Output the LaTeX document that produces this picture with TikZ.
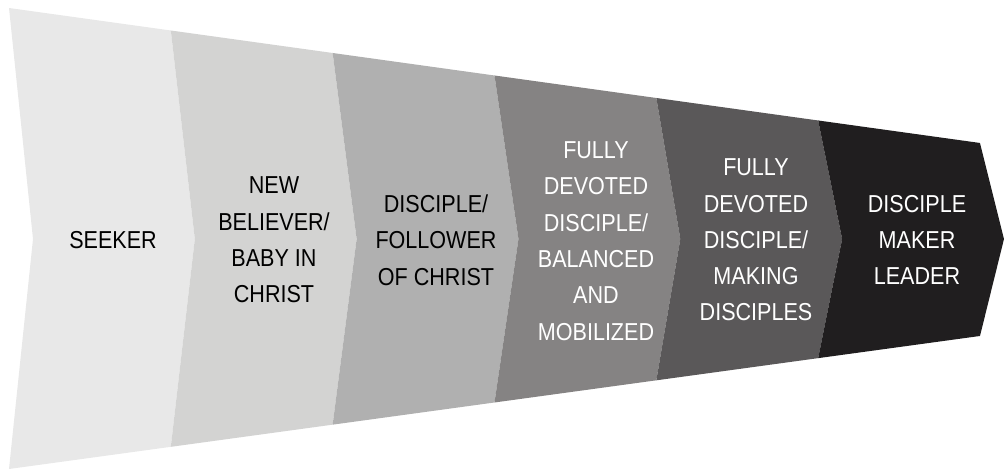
\documentclass[tikz,border=0pt]{standalone}
\usepackage{fontspec}
\newfontfamily\funnelfont[FakeStretch=0.88]{Liberation Sans}
\definecolor{segone}{HTML}{E8E8E8}
\definecolor{segtwo}{HTML}{D3D3D2}
\definecolor{segthree}{HTML}{B0B0B0}
\definecolor{segfour}{HTML}{858383}
\definecolor{segfive}{HTML}{5A5859}
\definecolor{segsix}{HTML}{201E1F}
\tikzset{
	stagetext/.style={align=center, inner sep=0pt, font=\funnelfont\fontsize{24.5}{36.3}\selectfont},
	darkstage/.style={stagetext, text=white}
}

\begin{document}
\begin{tikzpicture}[x=1pt,y=-1pt]
	\useasboundingbox (0,0) rectangle (1004,470);
		%chevrons
			\foreach \i/\col in {0/segone,1/segtwo,2/segthree,3/segfour,4/segfive,5/segsix} {
				\pgfmathsetmacro\xl{9+161.83*\i}
				\pgfmathsetmacro\xr{\xl+161.83}
				\pgfmathsetmacro\tl{8+(\xl-9)*0.139}
				\pgfmathsetmacro\tr{8+(\xr-9)*0.139}
				\pgfmathsetmacro\bl{469-(\xl-9)*0.137}
				\pgfmathsetmacro\br{469-(\xr-9)*0.137}
				\fill[\col] (\xl,\tl) -- (\xr,\tr) -- (\xr+24,239) -- (\xr,\br) -- (\xl,\bl) -- (\xl+24,239) -- cycle;
			}
		%labels
			\node[stagetext] (seeker) at (113,240) {SEEKER};
			\node[stagetext] (believer) at (274,240) {NEW\\BELIEVER/\\BABY IN\\CHRIST};
			\node[stagetext] (follower) at (436,240) {DISCIPLE/\\FOLLOWER\\OF CHRIST};
			\node[darkstage] (balanced) at (596,241) {FULLY\\DEVOTED\\DISCIPLE/\\BALANCED\\AND\\MOBILIZED};
			\node[darkstage] (making) at (756,240) {FULLY\\DEVOTED\\DISCIPLE/\\MAKING\\DISCIPLES};
			\node[darkstage] (leader) at (917,240) {DISCIPLE\\MAKER\\LEADER};
	\end{tikzpicture}
\end{document}
